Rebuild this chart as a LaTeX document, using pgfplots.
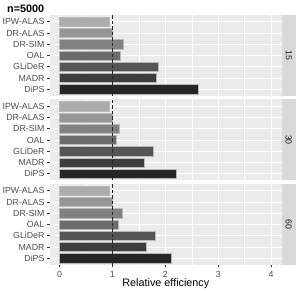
\documentclass[border=0pt]{standalone}
\usepackage{pgfplots}
\pgfplotsset{compat=1.18}
\usepackage{fontspec}
\setmainfont{Liberation Sans}
\definecolor{ggbg}{HTML}{EBEBEB}
\definecolor{ggstrip}{HTML}{D9D9D9}
\definecolor{gtxt}{HTML}{4D4D4D}
\definecolor{gtick}{HTML}{333333}
\definecolor{cA}{HTML}{ACACAC}
\definecolor{cB}{HTML}{969696}
\definecolor{cC}{HTML}{818181}
\definecolor{cD}{HTML}{6B6B6B}
\definecolor{cE}{HTML}{555555}
\definecolor{cF}{HTML}{3E3E3E}
\definecolor{cG}{HTML}{262626}
\pgfplotsset{
  ggpanel/.style={
    scale only axis, width=231.7pt, height=81pt,
    xmin=-0.18, xmax=4.2, ymin=0.4, ymax=7.6,
    axis background/.style={fill=ggbg},
    axis line style={draw=none},
    xtick={0,1,2,3,4}, minor xtick={0.5,1.5,2.5,3.5},
    ytick={1,2,3,4,5,6,7},
    yticklabels={DiPS,MADR,GLiDeR,OAL,DR-SIM,DR-ALAS,IPW-ALAS},
    xmajorgrids, xminorgrids, ymajorgrids,
    major grid style={white, line width=0.8pt},
    minor grid style={white, line width=0.4pt},
    tick align=outside, major tick length=2.5pt,
    minor tick length=0pt,
    tick style={gtick, line width=0.5pt},
    ytick pos=left, xtick pos=bottom,
    ticklabel style={font=\fontsize{8.8}{10}\selectfont, text=gtxt},
    /pgf/number format/assume math mode=true,
    yticklabel style={xshift=0.5pt},
    xbar, bar shift=0pt, bar width=0.82,
    every axis plot/.append style={draw=gray!55, line width=0.4pt},
  },
  nox/.style={xticklabels={}, xtick style={draw=none}},
  vref/.style={xbar=false, sharp plot, dash pattern=on 3.5pt off 2pt, draw=black!85, line width=0.5pt},
}
\begin{document}
\begin{tikzpicture}
\path[use as bounding box] (0,0) rectangle (298pt,291pt);
% panel 15
\begin{axis}[ggpanel, nox, at={(50pt,276pt)}, anchor=north west]
\addplot[fill=cA] coordinates {(0.93,7)};
\addplot[fill=cB] coordinates {(1.00,6)};
\addplot[fill=cC] coordinates {(1.21,5)};
\addplot[fill=cD] coordinates {(1.15,4)};
\addplot[fill=cE] coordinates {(1.87,3)};
\addplot[fill=cF] coordinates {(1.83,2)};
\addplot[fill=cG] coordinates {(2.62,1)};
\addplot[vref] coordinates {(1,0.4) (1,7.6)};
\end{axis}
% panel 30
\begin{axis}[ggpanel, nox, at={(50pt,191.5pt)}, anchor=north west]
\addplot[fill=cA] coordinates {(0.94,7)};
\addplot[fill=cB] coordinates {(1.00,6)};
\addplot[fill=cC] coordinates {(1.12,5)};
\addplot[fill=cD] coordinates {(1.08,4)};
\addplot[fill=cE] coordinates {(1.78,3)};
\addplot[fill=cF] coordinates {(1.60,2)};
\addplot[fill=cG] coordinates {(2.20,1)};
\addplot[vref] coordinates {(1,0.4) (1,7.6)};
\end{axis}
% panel 60
\begin{axis}[ggpanel, at={(50pt,107pt)}, anchor=north west]
\addplot[fill=cA] coordinates {(0.945,7)};
\addplot[fill=cB] coordinates {(1.00,6)};
\addplot[fill=cC] coordinates {(1.19,5)};
\addplot[fill=cD] coordinates {(1.10,4)};
\addplot[fill=cE] coordinates {(1.80,3)};
\addplot[fill=cF] coordinates {(1.64,2)};
\addplot[fill=cG] coordinates {(2.12,1)};
\addplot[vref] coordinates {(1,0.4) (1,7.6)};
\end{axis}
% strips
\fill[ggstrip] (282pt,195pt) rectangle (295.5pt,276pt);
\fill[ggstrip] (282pt,110.5pt) rectangle (295.5pt,191.5pt);
\fill[ggstrip] (282pt,26pt) rectangle (295.5pt,107pt);
\node[rotate=-90, font=\fontsize{8.8}{10}\selectfont, text=black!90] at (288.75pt,235.5pt) {15};
\node[rotate=-90, font=\fontsize{8.8}{10}\selectfont, text=black!90] at (288.75pt,151pt) {30};
\node[rotate=-90, font=\fontsize{8.8}{10}\selectfont, text=black!90] at (288.75pt,66.5pt) {60};
% title and x label
\node[anchor=base west, inner sep=0pt, font=\bfseries\fontsize{10.8}{12}\selectfont] at (7pt,278.7pt) {n=5000};
\node[anchor=base, inner sep=0pt, font=\fontsize{10.8}{12}\selectfont] at (165.85pt,4pt) {Relative efficiency};
\end{tikzpicture}
\end{document}
